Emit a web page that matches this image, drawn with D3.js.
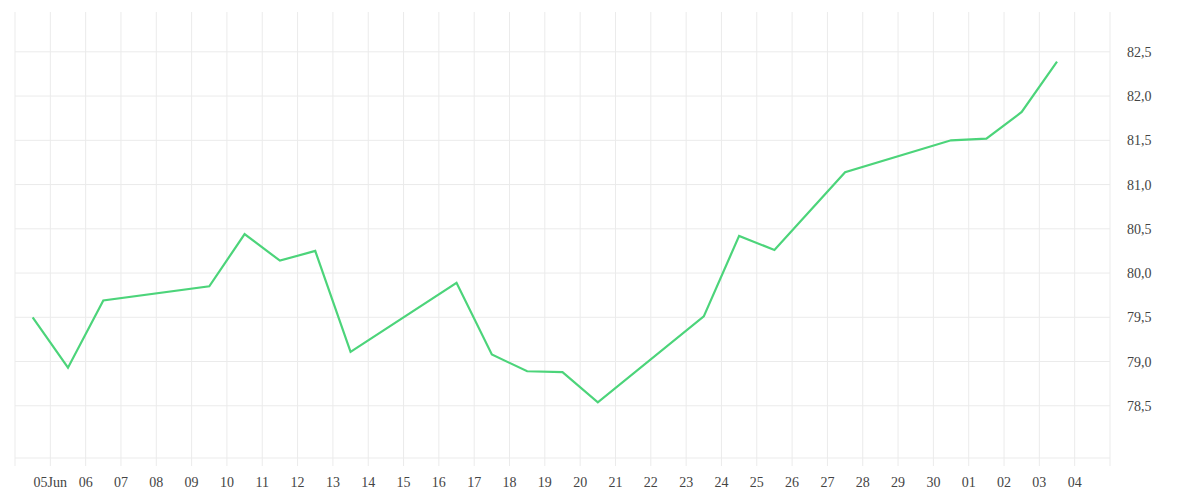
<!DOCTYPE html><html><head><meta charset="utf-8">
<script src="https://cdn.jsdelivr.net/npm/d3@7"></script>
<style>body{margin:0;background:#fff}text{font-family:"Liberation Serif","Times New Roman","DejaVu Serif";font-size:14px;fill:#444}</style></head><body>
<svg id="c" width="1200" height="500"></svg>
<script>
const dates=["2024-06-04T12:00","2024-06-05T12:00","2024-06-06T12:00","2024-06-09T12:00","2024-06-10T12:00","2024-06-11T12:00","2024-06-12T12:00","2024-06-13T12:00","2024-06-16T12:00","2024-06-17T12:00","2024-06-18T12:00","2024-06-19T12:00","2024-06-20T12:00","2024-06-23T12:00","2024-06-24T12:00","2024-06-25T12:00","2024-06-27T12:00","2024-06-30T12:00","2024-07-01T12:00","2024-07-02T12:00","2024-07-03T12:00"];
const values=[79.50,78.93,79.69,79.85,80.44,80.14,80.25,79.11,79.89,79.08,78.89,78.88,78.54,79.51,80.42,80.26,81.14,81.50,81.52,81.82,82.39];
const yTicks=[78.5,79.0,79.5,80.0,80.5,81.0,81.5,82.0,82.5];
const svg=d3.select("#c");
const L=15,R=1110,T=12,B=458;
const x=d3.scaleTime().domain([new Date("2024-06-04T00:00"),new Date("2024-07-05T00:00")]).range([L,R]);
const y=d3.scaleLinear().domain([77.91,82.95]).range([B,T]);
const days=d3.timeDay.range(new Date("2024-06-05T00:00"),new Date("2024-07-05T00:00"));
const g=svg.append("g");
g.selectAll(".v").data([new Date("2024-06-04T00:00"),...days,new Date("2024-07-05T00:00")]).enter().append("line")
 .attr("x1",d=>x(d)).attr("x2",d=>x(d)).attr("y1",T).attr("y2",B+8).attr("stroke","#ebebeb");
g.selectAll(".h").data(yTicks).enter().append("line")
 .attr("x1",L).attr("x2",R).attr("y1",d=>y(d)).attr("y2",d=>y(d)).attr("stroke","#ebebeb");
g.append("line").attr("x1",L).attr("x2",R).attr("y1",B).attr("y2",B).attr("stroke","#ebebeb");
const fmt=d=>d.getDate()===5&&d.getMonth()===5?"05Jun":d3.timeFormat("%d")(d);
g.selectAll(".xl").data(days).enter().append("text").attr("x",d=>x(d)).attr("y",487)
 .attr("text-anchor","middle").text(fmt);
g.selectAll(".yl").data(yTicks).enter().append("text").attr("x",1127).attr("y",d=>y(d)+5)
 .text(d=>d3.format(".1f")(d).replace(".",","));
svg.append("path").datum(dates.map((d,i)=>[new Date(d),values[i]]))
 .attr("d",d3.line().x(d=>x(d[0])).y(d=>y(d[1])))
 .attr("fill","none").attr("stroke","#4cd47a").attr("stroke-width",2.2);
</script></body></html>
